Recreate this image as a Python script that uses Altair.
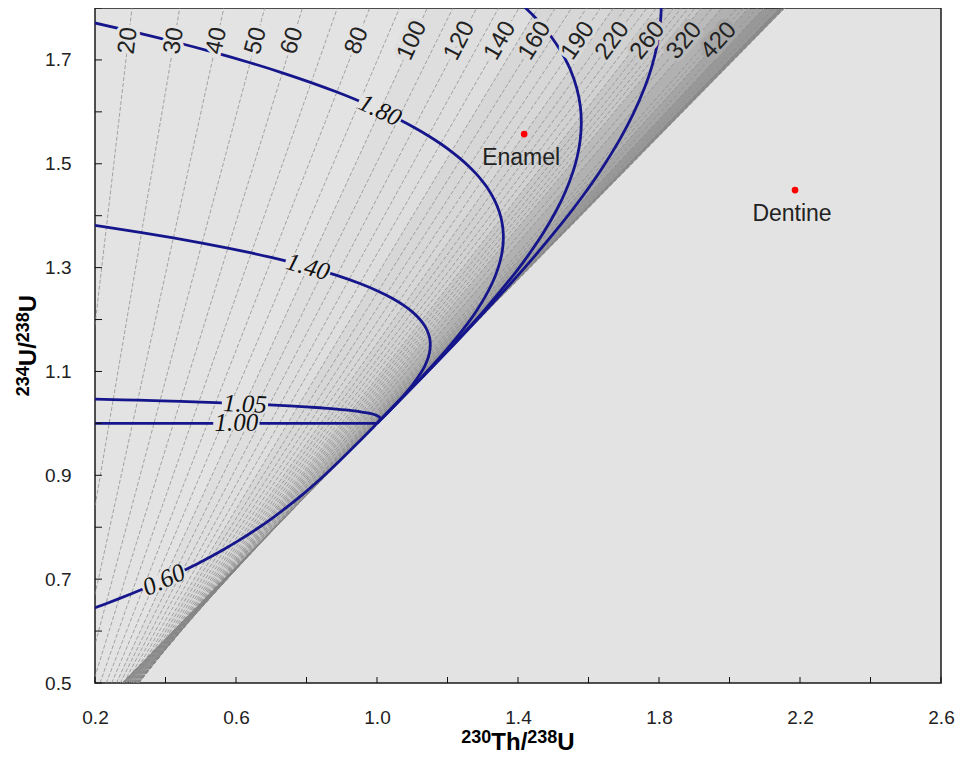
import math
import altair as alt
import pandas as pd

# ---------------- data ----------------
# isochrons: x (230Th/238U) where each line meets y=1.8 (top) and y=0.5 (bottom)
ISO_AGES = [20, 30, 40, 50, 60, 70, 80, 90, 100, 110, 120, 130, 140, 150, 160, 170, 180, 190, 200,
            210, 220, 230, 240, 250, 260, 270, 280, 290, 300, 320, 340, 380, 400, 420, 460, 500,
            600, 700, 800, 1000, 5000]
ISO_X_TOP = [0.3050, 0.4404, 0.5656, 0.6814, 0.7885, 0.8875, 0.9792, 1.0640, 1.1426, 1.2153,
             1.2826, 1.3450, 1.4028, 1.4563, 1.5059, 1.5519, 1.5946, 1.6341, 1.6708,
             1.7048, 1.7364, 1.7657, 1.7929, 1.8181, 1.8416, 1.8634, 1.8836, 1.9024, 1.9198,
             1.9512, 1.9783, 2.0220, 2.0395, 2.0548, 2.0794, 2.0980,
             2.1271, 2.1417, 2.1492, 2.1550, 2.1571]
ISO_X_BOT = [0.0813, 0.1151, 0.1449, 0.1711, 0.1942, 0.2143, 0.2319, 0.2473, 0.2606, 0.2720,
             0.2819, 0.2903, 0.2974, 0.3034, 0.3084, 0.3125, 0.3158, 0.3185, 0.3205,
             0.3220, 0.3231, 0.3237, 0.3240, 0.3240, 0.3238, 0.3233, 0.3227, 0.3219, 0.3209,
             0.3188, 0.3164, 0.3112, 0.3086, 0.3061, 0.3013, 0.2970,
             0.2889, 0.2838, 0.2807, 0.2780, 0.2768]
ISO_LABELED = [20, 30, 40, 50, 60, 80, 100, 120, 140, 160, 190, 220, 260, 320, 420]

# initial 234U/238U evolution curves
C180_X = [0.0, 0.1565, 0.2974, 0.4241, 0.5379, 0.6400, 0.7314, 0.8132, 0.8862, 0.9511, 1.0089,
          1.0602, 1.1055, 1.1454, 1.1805, 1.2112, 1.2378, 1.2609, 1.2808, 1.2977, 1.3120,
          1.3337, 1.3477, 1.3555, 1.3584, 1.3573, 1.3533, 1.3428, 1.3289, 1.3070, 1.2834,
          1.2595, 1.2034, 1.1192, 1.0683, 1.0167, 1.0]
C180_Y = [1.8, 1.7777, 1.7560, 1.7350, 1.7145, 1.6946, 1.6752, 1.6564, 1.6381, 1.6203, 1.6031,
          1.5862, 1.5699, 1.5540, 1.5386, 1.5236, 1.5090, 1.4948, 1.4810, 1.4676, 1.4546,
          1.4296, 1.4060, 1.3837, 1.3626, 1.3427, 1.3238, 1.2975, 1.2733, 1.2441, 1.2180,
          1.1947, 1.1468, 1.0834, 1.0474, 1.0115, 1.0]
C140_X = [0.0, 0.1220, 0.2324, 0.3322, 0.4223, 0.5037, 0.5771, 0.6432, 0.7028, 0.7563, 0.8044,
          0.8861, 0.9515, 1.0034, 1.0442, 1.0759, 1.1002, 1.1183, 1.1315, 1.1407, 1.1466,
          1.1500, 1.1511, 1.1490, 1.1428, 1.1343, 1.1246, 1.0997, 1.0593, 1.0341, 1.0084, 1.0]
C140_Y = [1.4, 1.3889, 1.3780, 1.3675, 1.3572, 1.3473, 1.3376, 1.3282, 1.3191, 1.3102, 1.3015,
          1.2850, 1.2693, 1.2545, 1.2405, 1.2273, 1.2148, 1.2030, 1.1918, 1.1813, 1.1713,
          1.1619, 1.1488, 1.1367, 1.1220, 1.1090, 1.0973, 1.0734, 1.0417, 1.0237, 1.0058, 1.0]
C105_X = [0.0, 0.0918, 0.1755, 0.2517, 0.3212, 0.4420, 0.5423, 0.6254, 0.6942, 0.7512, 0.7983,
          0.8372, 0.8693, 0.9176, 0.9502, 0.9720, 0.9917, 0.9992, 1.0066, 1.0089, 1.0068, 1.0]
C105_Y = [1.05, 1.0486, 1.0473, 1.0459, 1.0447, 1.0422, 1.0399, 1.0377, 1.0356, 1.0337, 1.0318,
          1.0301, 1.0284, 1.0254, 1.0227, 1.0202, 1.0171, 1.0153, 1.0122, 1.0092, 1.0052, 1.0]
C100_X = [0.0, 1.0]
C100_Y = [1.0, 1.0]
C060_X = [0.0, 0.0530, 0.1023, 0.1483, 0.1911, 0.2311, 0.2684, 0.3033, 0.3360, 0.3666, 0.3952,
          0.4474, 0.4936, 0.5346, 0.5711, 0.6037, 0.6596, 0.7053, 0.7433, 0.7894, 0.8145,
          0.8549, 0.8921, 0.9394, 0.9657, 0.9917, 1.0]
C060_Y = [0.6, 0.6112, 0.6220, 0.6325, 0.6428, 0.6527, 0.6624, 0.6718, 0.6809, 0.6898, 0.6985,
          0.7151, 0.7307, 0.7455, 0.7595, 0.7727, 0.7970, 0.8187, 0.8381, 0.8633, 0.8780,
          0.9027, 0.9266, 0.9583, 0.9763, 0.9942, 1.0]
C220_X = [1.4095, 1.4433, 1.4723, 1.4968, 1.5174, 1.5343, 1.5481, 1.5672, 1.5771, 1.5795, 1.5761,
          1.5681, 1.5566, 1.5345, 1.5087, 1.4711, 1.4325, 1.3943, 1.3072, 1.1792, 1.1025,
          1.0251, 1.0]
C220_Y = [1.8079, 1.7854, 1.7635, 1.7422, 1.7215, 1.7014, 1.6819, 1.6444, 1.6090, 1.5755, 1.5439,
          1.5140, 1.4858, 1.4462, 1.4100, 1.3661, 1.3270, 1.2920, 1.2202, 1.1251, 1.0711,
          1.0173, 1.0]
C260_X = [1.8007, 1.8064, 1.8034, 1.7938, 1.7788, 1.7599, 1.7262, 1.6885, 1.6353, 1.5816, 1.5292,
          1.4110, 1.2391, 1.1367, 1.0334, 1.0]
C260_Y = [1.8592, 1.8120, 1.7673, 1.7252, 1.6853, 1.6477, 1.5950, 1.5466, 1.4882, 1.4360, 1.3894,
          1.2936, 1.1668, 1.0948, 1.0231, 1.0]

CURVE_LABELS = ["1.80", "1.40", "1.05", "1.00", "0.60"]
CURVE_LABEL_X = [1.0089, 0.8044, 0.6254, 0.6010, 0.3952]
CURVE_LABEL_Y = [1.6031, 1.3015, 1.0377, 1.0000, 0.6985]

POINT_NAMES = ["Enamel", "Dentine"]
POINT_X = [1.4175, 2.1859]
POINT_Y = [1.5572, 1.4493]

X_TICKS = [0.2, 0.4, 0.6, 0.8, 1.0, 1.2, 1.4, 1.6, 1.8, 2.0, 2.2, 2.4, 2.6]
Y_TICKS = [0.5, 0.6, 0.7, 0.8, 0.9, 1.0, 1.1, 1.2, 1.3, 1.4, 1.5, 1.6, 1.7, 1.8]

# ---------------- layout / style ----------------
W, H = 846, 675
X0, X1, Y0, Y1 = 0.2, 2.6, 0.5, 1.8
BG = "#e3e3e3"
BLUE = "#16168c"
LABEL_Y = 1.737
ISO_FONT = 24
CLAB_FONT = 25


def band_op(age):
    for lim, op in [(150, 0.02), (200, 0.05), (250, 0.08), (300, 0.12), (350, 0.18),
                    (420, 0.22), (500, 0.27), (700, 0.33)]:
        if age < lim:
            return op
    return 0.40


def grey_hex(op):
    v = int(round(0xe3 * (1 - op)))
    return "#{0:02x}{0:02x}{0:02x}".format(v)


def cross_section(poly, x):
    ys = []
    n = len(poly)
    for k in range(n):
        (xa, ya), (xb, yb) = poly[k], poly[(k + 1) % n]
        if xa == xb:
            if abs(xa - x) < 1e-12:
                ys += [ya, yb]
        elif (xa - x) * (xb - x) <= 0:
            t = (x - xa) / (xb - xa)
            ys.append(ya + t * (yb - ya))
    return min(ys), max(ys)


iso_df = pd.DataFrame({"age": ISO_AGES, "xt": ISO_X_TOP, "xb": ISO_X_BOT})
iso_df["yt"] = Y1
iso_df["yb"] = Y0

# shaded quadrilaterals between successive isochrons (dense-line texture),
# written as vertical ranged areas (lower / upper edge at every vertex x)
band_rows = []
bid = 0
for i in range(len(ISO_AGES) - 1):
    if ISO_AGES[i] < 100:
        continue
    op = band_op(0.5 * (ISO_AGES[i] + min(ISO_AGES[i + 1], 1200)))
    bi, bj, ti, tj = ISO_X_BOT[i], ISO_X_BOT[i + 1], ISO_X_TOP[i], ISO_X_TOP[i + 1]
    if bj >= bi:
        polys = [[(bi, Y0), (bj, Y0), (tj, Y1), (ti, Y1)]]
    else:
        s = (bj - bi) / ((ti - bi) - (tj - bj))
        xc, yc = bi + s * (ti - bi), Y0 + s * (Y1 - Y0)
        polys = [[(xc, yc), (tj, Y1), (ti, Y1)], [(bj, Y0), (bi, Y0), (xc, yc)]]
    for poly in polys:
        for vx in sorted(set(p[0] for p in poly)):
            lo, hi = cross_section(poly, vx)
            band_rows.append({"band": bid, "x": vx, "lo": lo, "hi": hi, "op": op})
        bid += 1
band_df = pd.DataFrame(band_rows)

lab_rows = []
for a, xt, xb in zip(ISO_AGES, ISO_X_TOP, ISO_X_BOT):
    if a not in ISO_LABELED:
        continue
    xl = xb + (LABEL_Y - Y0) / (Y1 - Y0) * (xt - xb)
    slope = (xt - xb) * W / (X1 - X0) / H
    ang = 270 + math.degrees(math.atan(slope))
    lab_rows.append({"x": xl, "y": LABEL_Y, "lab": str(a), "ang": ang,
                     "halo": grey_hex(band_op(a) if a >= 100 else 0.0)})
lab_df = pd.DataFrame(lab_rows)

curves = {"1.80": (C180_X, C180_Y), "1.40": (C140_X, C140_Y), "1.05": (C105_X, C105_Y),
          "1.00": (C100_X, C100_Y), "0.60": (C060_X, C060_Y), "2.20": (C220_X, C220_Y),
          "2.60": (C260_X, C260_Y)}
crow = []
for name, (xs, ys) in curves.items():
    for i, (xx, yy) in enumerate(zip(xs, ys)):
        crow.append({"curve": name, "i": i, "x": xx, "y": yy})
curve_df = pd.DataFrame(crow)

clab_rows = []
for name, lx, ly in zip(CURVE_LABELS, CURVE_LABEL_X, CURVE_LABEL_Y):
    xs, ys = curves[name]
    j = min(range(len(xs)), key=lambda k: (xs[k] - lx) ** 2 + (ys[k] - ly) ** 2)
    a, b = max(j - 1, 0), min(j + 1, len(xs) - 1)
    dxp = (xs[b] - xs[a]) * W / (X1 - X0)
    dyp = -(ys[b] - ys[a]) * H / (Y1 - Y0)
    ang = math.degrees(math.atan2(dyp, dxp)) % 360
    side = 1.85 * CLAB_FONT
    clab_rows.append({"x": lx, "y": ly, "lab": name, "ang": ang, "sz": side * side})
clab_df = pd.DataFrame(clab_rows)

pt_df = pd.DataFrame({"name": POINT_NAMES, "x": POINT_X, "y": POINT_Y})
xt_df = pd.DataFrame({"v": X_TICKS})
yt_df = pd.DataFrame({"v": Y_TICKS})

# ---------------- scales and axes ----------------
XS = alt.Scale(domain=[X0, X1], nice=False, zero=False)
YS = alt.Scale(domain=[Y0, Y1], nice=False, zero=False)
common_axis = dict(title=None, ticks=False, domain=False, grid=False, labelFont="Liberation Sans",
                   labelFontSize=19, labelColor="#222222", labelOverlap=False, labelFlush=False)
XAX = alt.Axis(values=X_TICKS,
               labelExpr="(round(datum.value*10) % 4 == 2) ? format(datum.value, '.1f') : ''",
               labelPadding=25, **common_axis)
YAX = alt.Axis(values=Y_TICKS,
               labelExpr="(round(datum.value*10) % 2 == 1) ? format(datum.value, '.1f') : ''",
               labelPadding=24, **common_axis)


def X(f, **kw):
    return alt.X(f + ":Q", scale=XS, axis=XAX, **kw)


def Y(f, **kw):
    return alt.Y(f + ":Q", scale=YS, axis=YAX, **kw)


layers = []
for lvl in sorted(set(band_df["op"])):
    sub = band_df[band_df["op"] == lvl]
    layers.append(alt.Chart(sub).mark_area(clip=True, color="#000000", opacity=lvl).encode(
        x=X("x"), y=Y("lo", stack=None), y2="hi:Q", detail="band:N"))

layers.append(alt.Chart(iso_df).mark_rule(clip=True, strokeDash=[4, 2], strokeWidth=0.7,
                                          color="#858585").encode(
    x=X("xb"), y=Y("yb"), x2="xt:Q", y2="yt:Q"))

layers.append(alt.Chart(curve_df).mark_line(clip=True, color=BLUE, strokeWidth=2.8,
                                            interpolate="catmull-rom").encode(
    x=X("x"), y=Y("y"), detail="curve:N", order="i:Q"))

layers.append(alt.Chart(lab_df).mark_text(font="Liberation Sans", fontSize=ISO_FONT, align="center",
                                          baseline="middle", strokeWidth=7).encode(
    x=X("x"), y=Y("y"), text="lab:N", angle=alt.Angle("ang:Q", scale=None),
    stroke=alt.Stroke("halo:N", scale=None), fill=alt.Fill("halo:N", scale=None)))
layers.append(alt.Chart(lab_df).mark_text(font="Liberation Sans", fontSize=ISO_FONT, align="center",
                                          baseline="middle", color="#222222").encode(
    x=X("x"), y=Y("y"), text="lab:N", angle=alt.Angle("ang:Q", scale=None)))

# background boxes that cut the curves under their labels
layers.append(alt.Chart(clab_df).mark_point(
    shape="M-1,-0.3L1,-0.3L1,0.3L-1,0.3Z", filled=True, color=BG, opacity=1, strokeWidth=0).encode(
    x=X("x"), y=Y("y"), size=alt.Size("sz:Q", scale=None), angle=alt.Angle("ang:Q", scale=None)))
layers.append(alt.Chart(clab_df).mark_text(font="Liberation Serif", fontStyle="italic",
                                           fontSize=CLAB_FONT, align="center", baseline="middle",
                                           color="#111111").encode(
    x=X("x"), y=Y("y"), text="lab:N", angle=alt.Angle("ang:Q", scale=None)))

layers.append(alt.Chart(pt_df).mark_circle(size=45, color="#ff0000", opacity=1).encode(
    x=X("x"), y=Y("y")))
layers.append(alt.Chart(pt_df).mark_text(font="Liberation Sans", fontSize=23, dy=24, dx=-3,
                                         color="#222222").encode(x=X("x"), y=Y("y"), text="name:N"))

layers.append(alt.Chart(yt_df).mark_rule(color="#111111", strokeWidth=1).encode(
    y=Y("v"), x=alt.value(0), x2=alt.value(7)))
layers.append(alt.Chart(xt_df).mark_rule(color="#111111", strokeWidth=1).encode(
    x=X("v"), y=alt.value(H), y2=alt.value(H - 6)))

# axis titles with real superscripts (small raised digits + bold letters)
SUP, MAIN = 18, 24
DIG = 0.556


def piece(txt, size, px, py, ang=0):
    return alt.Chart(pd.DataFrame({"t": [txt]})).mark_text(
        font="Liberation Sans", fontWeight="bold", fontSize=size, align="left",
        baseline="alphabetic", angle=ang, color="#000000").encode(
        x=alt.value(px), y=alt.value(py), text="t:N")


wx = [3 * DIG * SUP, (0.611 + 0.611 + 0.278) * MAIN, 3 * DIG * SUP, 0.722 * MAIN]
sx = W / 2 - sum(wx) / 2
base_x = H + 67
layers.append(piece("230", SUP, sx, base_x - 7))
layers.append(piece("Th/", MAIN, sx + wx[0], base_x))
layers.append(piece("238", SUP, sx + wx[0] + wx[1], base_x - 7))
layers.append(piece("U", MAIN, sx + wx[0] + wx[1] + wx[2], base_x))

wy = [3 * DIG * SUP, (0.722 + 0.278) * MAIN, 3 * DIG * SUP, 0.722 * MAIN]
sy = H / 2 + sum(wy) / 2
base_y = -59
layers.append(piece("234", SUP, base_y - 7, sy, 270))
layers.append(piece("U/", MAIN, base_y, sy - wy[0], 270))
layers.append(piece("238", SUP, base_y - 7, sy - wy[0] - wy[1], 270))
layers.append(piece("U", MAIN, base_y, sy - wy[0] - wy[1] - wy[2], 270))

chart = alt.layer(*layers).properties(
    width=W, height=H,
    autosize=alt.AutoSizeParams(type="none"),
    padding={"left": 87, "top": 0, "right": 14, "bottom": 74},
    background="#ffffff",
).configure_view(fill=BG, stroke="#1a1a1a", strokeWidth=1.5)

chart.save("out.html", embed_options={"renderer": "svg", "actions": False})
